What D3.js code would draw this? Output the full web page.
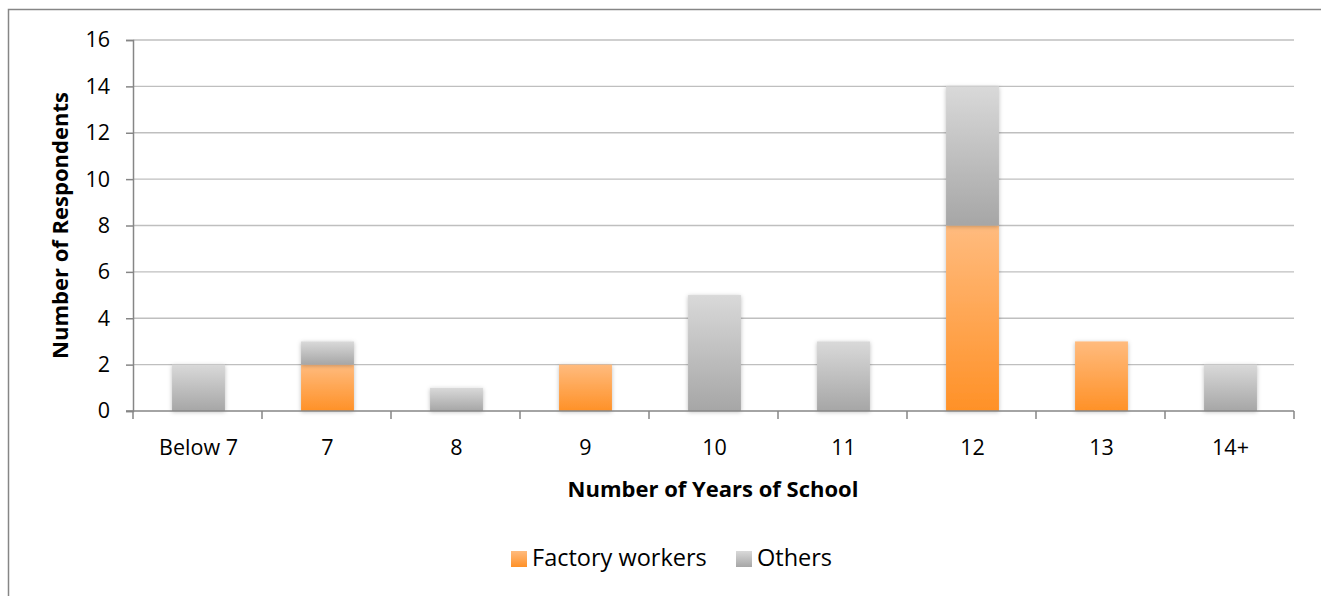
<!DOCTYPE html>
<html>
<head>
<meta charset="utf-8">
<script src="https://cdn.jsdelivr.net/npm/d3@7"></script>
<style>
  html, body { margin: 0; padding: 0; background: #fff; }
  svg { display: block; }
  text { font-family: "Open Sans", "Noto Sans", "Liberation Sans", sans-serif; fill: #000; }
</style>
</head>
<body>
<svg id="chart" width="1321" height="596"></svg>
<script>
// Years of schooling categories and respondent counts per group
const categories = ["Below 7", "7", "8", "9", "10", "11", "12", "13", "14+"];
const factoryWorkers = [0, 2, 0, 2, 0, 0, 8, 3, 0];
const others = [2, 1, 1, 0, 5, 3, 6, 0, 2];
const yTicks = [0, 2, 4, 6, 8, 10, 12, 14, 16];
const seriesNames = ["Factory workers", "Others"];

const svg = d3.select("#chart");
const W = 1321, H = 596;
const plot = { left: 133, right: 1294, top: 40, bottom: 411 };
const FS = 21.5;

// outer frame
svg.append("rect")
  .attr("x", 8.5).attr("y", 9.5)
  .attr("width", W + 10).attr("height", H + 10)
  .attr("fill", "none").attr("stroke", "#868686").attr("stroke-width", 1.5);

const defs = svg.append("defs");
const gradOrange = defs.append("linearGradient").attr("id", "gOrange")
  .attr("x1", 0).attr("y1", 0).attr("x2", 0).attr("y2", 1);
gradOrange.append("stop").attr("offset", "0%").attr("stop-color", "#ffbb7e");
gradOrange.append("stop").attr("offset", "100%").attr("stop-color", "#ff9127");
const gradGray = defs.append("linearGradient").attr("id", "gGray")
  .attr("x1", 0).attr("y1", 0).attr("x2", 0).attr("y2", 1);
gradGray.append("stop").attr("offset", "0%").attr("stop-color", "#d9d9d9");
gradGray.append("stop").attr("offset", "100%").attr("stop-color", "#a6a6a6");

const shadow = defs.append("filter").attr("id", "shadow")
  .attr("x", "-20%").attr("y", "-20%").attr("width", "140%").attr("height", "140%");
shadow.append("feDropShadow").attr("dx", 0).attr("dy", 1)
  .attr("stdDeviation", 2).attr("flood-color", "#000").attr("flood-opacity", 0.25);

const x = d3.scaleBand().domain(categories).range([plot.left, plot.right]).paddingInner(0).paddingOuter(0);
const y = d3.scaleLinear().domain([0, 16]).range([plot.bottom, plot.top]);

// gridlines
svg.append("g").selectAll("line").data(yTicks.filter(d => d > 0)).join("line")
  .attr("x1", plot.left).attr("x2", plot.right)
  .attr("y1", d => y(d)).attr("y2", d => y(d))
  .attr("stroke", "#bfbfbf").attr("stroke-width", 1.3);

// y axis
const yAxis = svg.append("g").attr("transform", `translate(${plot.left},0)`)
  .call(d3.axisLeft(y).tickValues(yTicks).tickSize(7).tickPadding(16).tickFormat(d3.format("d")));
yAxis.attr("font-size", null).attr("font-family", null);
yAxis.select(".domain").attr("stroke", "#868686").attr("stroke-width", 1.5);
yAxis.selectAll(".tick line").attr("stroke", "#868686").attr("stroke-width", 1.5);
yAxis.selectAll("text").style("font-size", FS + "px").attr("fill", "#000");

// stacked bars
const stackData = categories.map((c, i) => ({ cat: c, fw: factoryWorkers[i], ot: others[i] }));
const stack = d3.stack().keys(["fw", "ot"])(stackData);
const fills = { fw: "url(#gOrange)", ot: "url(#gGray)" };
const barW = x.bandwidth() * 0.41;

svg.append("g").selectAll("g").data(stack).join("g")
  .attr("fill", s => fills[s.key])
  .selectAll("rect").data(s => s.filter(d => d[1] - d[0] > 0)).join("rect")
  .attr("x", d => x(d.data.cat) + (x.bandwidth() - barW) / 2 + 1)
  .attr("width", barW)
  .attr("y", d => y(d[1]))
  .attr("height", d => y(d[0]) - y(d[1]))
  .attr("filter", "url(#shadow)");

// x axis
const xAxis = svg.append("g").attr("transform", `translate(0,${plot.bottom})`);
xAxis.append("line").attr("x1", plot.left - 7).attr("x2", plot.right)
  .attr("stroke", "#868686").attr("stroke-width", 1.5);
const bounds = categories.map(c => x(c)).concat([plot.right]);
xAxis.selectAll("line.tk").data(bounds).join("line").attr("class", "tk")
  .attr("x1", d => d).attr("x2", d => d).attr("y1", 0).attr("y2", 8)
  .attr("stroke", "#868686").attr("stroke-width", 1.5);
xAxis.selectAll("text").data(categories).join("text")
  .attr("x", d => x(d) + x.bandwidth() / 2 + 1)
  .attr("y", 44)
  .attr("text-anchor", "middle")
  .style("font-size", FS + "px")
  .text(d => d);

// axis titles
svg.append("text")
  .attr("transform", `translate(68,${(plot.top + plot.bottom) / 2}) rotate(-90)`)
  .attr("text-anchor", "middle").style("font-size", "22px").attr("font-weight", "bold")
  .text("Number of Respondents");
svg.append("text")
  .attr("x", 713).attr("y", 497)
  .attr("text-anchor", "middle").style("font-size", "22px").attr("font-weight", "bold")
  .text("Number of Years of School");

// legend
const legend = svg.append("g");
const legendItems = [
  { name: seriesNames[0], fill: "url(#gOrange)", x: 511 },
  { name: seriesNames[1], fill: "url(#gGray)", x: 736 }
];
const li = legend.selectAll("g").data(legendItems).join("g")
  .attr("transform", d => `translate(${d.x},551)`);
li.append("rect").attr("width", 16).attr("height", 16).attr("fill", d => d.fill);
li.append("text").attr("x", 21).attr("y", 15).style("font-size", "23.5px").text(d => d.name);
</script>
</body>
</html>
